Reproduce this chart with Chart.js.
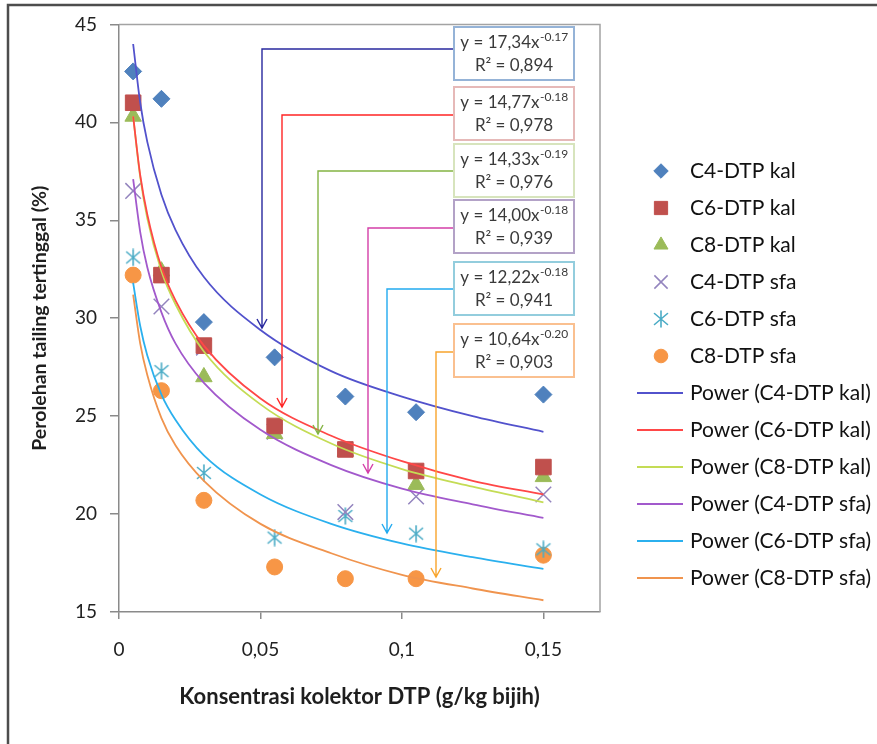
<!DOCTYPE html>
<html>
<head>
<meta charset="utf-8">
<script src="https://cdn.jsdelivr.net/npm/chart.js@4.4.1/dist/chart.umd.min.js"></script>
<style>
  html, body { margin: 0; padding: 0; background: #fff; }
  #wrap { width: 877px; height: 744px; }
</style>
</head>
<body>
<div id="wrap"><canvas id="chart" width="877" height="744"></canvas></div>
<script>
// nilai
const konsentrasi = [0.005, 0.015, 0.03, 0.055, 0.08, 0.105, 0.15];
const c4Kal = [42.6, 41.2, 29.8, 28.0, 26.0, 25.2, 26.1];
const c6Kal = [41.0, 32.2, 28.6, 24.5, 23.3, 22.2, 22.4];
const c8Kal = [40.3, 32.4, 27.0, 24.1, 23.2, 21.5, 21.9];
const c4Sfa = [36.5, 30.6, 28.5, 24.2, 20.1, 20.9, 21.0];
const c6Sfa = [33.1, 27.3, 22.1, 18.8, 19.9, 19.0, 18.2];
const c8Sfa = [32.2, 26.3, 20.7, 17.3, 16.7, 16.7, 17.9];

// garis tren power, dibaca sepanjang kurva
const trendX = [0.005, 0.0075, 0.01, 0.015, 0.02, 0.03, 0.05, 0.075, 0.1, 0.125, 0.15];
const trendC4Kal = [44.0, 41.0, 39.0, 36.3, 34.5, 32.1, 29.4, 27.3, 26.0, 25.0, 24.2];
const trendC6Kal = [40.3, 37.3, 35.3, 32.6, 30.9, 28.6, 25.9, 24.0, 22.7, 21.7, 21.0];
const trendC8Kal = [40.3, 37.2, 35.1, 32.4, 30.7, 28.3, 25.6, 23.6, 22.3, 21.4, 20.6];
const trendC4Sfa = [37.1, 34.4, 32.6, 30.3, 28.7, 26.7, 24.3, 22.5, 21.3, 20.5, 19.8];
const trendC6Sfa = [31.8, 29.6, 28.1, 26.1, 24.8, 23.0, 21.0, 19.5, 18.5, 17.8, 17.2];
const trendC8Sfa = [31.2, 28.7, 27.1, 24.9, 23.5, 21.7, 19.5, 18.0, 16.9, 16.2, 15.6];

const xTicks = [0, 0.05, 0.1, 0.15];
const yTicks = [15, 20, 25, 30, 35, 40, 45];

// persamaan di kotak label
const eqKoef = ['17,34', '14,77', '14,33', '14,00', '12,22', '10,64'];
const eqPangkat = ['-0.17', '-0.18', '-0.19', '-0.18', '-0.18', '-0.20'];
const eqR2 = ['0,894', '0,978', '0,976', '0,939', '0,941', '0,903'];

const FONT = 'Lato, "Open Sans", sans-serif';

// marker asterisk ala Excel
const asterisk = document.createElement('canvas');
asterisk.width = 18; asterisk.height = 18;
(function () {
  const c = asterisk.getContext('2d');
  c.strokeStyle = '#4BACC6'; c.lineWidth = 1.6; c.lineCap = 'round';
  c.beginPath();
  c.moveTo(9, 1); c.lineTo(9, 17);
  c.moveTo(2.5, 3.5); c.lineTo(15.5, 14.5);
  c.moveTo(15.5, 3.5); c.lineTo(2.5, 14.5);
  c.stroke();
})();

const pts = (xs, ys) => xs.map((x, i) => ({ x: x, y: ys[i] }));

function markers(label, ys, style, color, r, bw) {
  return { label: label, data: pts(konsentrasi, ys), pointStyle: style, pointRadius: r, pointHoverRadius: r,
    backgroundColor: color, borderColor: color, borderWidth: bw, showLine: false, order: 2 };
}
function trend(label, ys, color) {
  return { label: label, data: pts(trendX, ys), showLine: true, pointRadius: 0, borderColor: color,
    backgroundColor: color, borderWidth: 1.8, cubicInterpolationMode: 'monotone', fill: false, order: 1 };
}

const datasets = [
  markers('C4-DTP kal', c4Kal, 'rectRot', '#4F81BD', 8.5, 1),
  markers('C6-DTP kal', c6Kal, 'rect', '#C0504D', 11, 1),
  markers('C8-DTP kal', c8Kal, 'triangle', '#9BBB59', 9.5, 1),
  markers('C4-DTP sfa', c4Sfa, 'crossRot', '#9384BE', 11, 1.5),
  markers('C6-DTP sfa', c6Sfa, asterisk, '#4BACC6', 9, 1),
  markers('C8-DTP sfa', c8Sfa, 'circle', '#F79646', 8, 1),
  trend('Power (C4-DTP kal)', trendC4Kal, '#5252CC'),
  trend('Power (C6-DTP kal)', trendC6Kal, '#FF4747'),
  trend('Power (C8-DTP kal)', trendC8Kal, '#C4DC55'),
  trend('Power (C4-DTP sfa)', trendC4Sfa, '#A259CC'),
  trend('Power (C6-DTP sfa)', trendC6Sfa, '#2BB0EE'),
  trend('Power (C8-DTP sfa)', trendC8Sfa, '#F0944E')
];

// kotak persamaan + panah penunjuk (posisi piksel)
const boxTops = [27, 87, 144, 200, 262, 324];
const boxColors = ['#95B3D7', '#E6B9B8', '#D7E4BD', '#B3A2C7', '#93CDDD', '#FAC090'];
const arrowColors = ['#28289E', '#FF2525', '#84B443', '#D43FA8', '#22AAF0', '#F8A42C'];
const arrowY = [49, 115, 171, 228, 289, 352];
const arrowX = [262, 282, 318, 368, 387, 436];
const arrowTip = [328, 407, 434, 473, 533, 577];

const framePlugin = {
  id: 'frame',
  beforeDraw(chart) {
    const ctx = chart.ctx;
    ctx.save();
    ctx.fillStyle = '#fff';
    ctx.fillRect(0, 0, chart.width, chart.height);
    ctx.strokeStyle = '#4d4d4d';
    ctx.lineWidth = 2.5;
    ctx.beginPath();
    ctx.moveTo(8, chart.height); ctx.lineTo(8, 5); ctx.lineTo(chart.width, 5);
    ctx.stroke();
    ctx.restore();
  },
  beforeDatasetsDraw(chart) {
    const a = chart.chartArea, ctx = chart.ctx;
    ctx.save();
    ctx.strokeStyle = '#a3a3a3';
    ctx.lineWidth = 1.5;
    ctx.beginPath();
    ctx.moveTo(a.left, a.top); ctx.lineTo(a.right, a.top); ctx.lineTo(a.right, a.bottom);
    ctx.stroke();
    ctx.restore();
  }
};

const notesPlugin = {
  id: 'notes',
  afterDatasetsDraw(chart) {
    const ctx = chart.ctx;
    ctx.save();
    for (let i = 0; i < 6; i++) {
      // panah
      ctx.strokeStyle = arrowColors[i];
      ctx.lineWidth = 1.4;
      ctx.beginPath();
      ctx.moveTo(454, arrowY[i]); ctx.lineTo(arrowX[i], arrowY[i]); ctx.lineTo(arrowX[i], arrowTip[i]);
      ctx.moveTo(arrowX[i] - 5, arrowTip[i] - 9); ctx.lineTo(arrowX[i], arrowTip[i]); ctx.lineTo(arrowX[i] + 5, arrowTip[i] - 9);
      ctx.stroke();
    }
    for (let i = 0; i < 6; i++) {
      const top = boxTops[i], left = 454, w = 120, h = 53;
      ctx.fillStyle = '#fff';
      ctx.fillRect(left, top, w, h);
      ctx.strokeStyle = boxColors[i];
      ctx.lineWidth = 2;
      ctx.strokeRect(left, top, w, h);
      const cx = left + w / 2;
      ctx.fillStyle = '#3a3a3a';
      ctx.textBaseline = 'middle';
      ctx.font = '17px ' + FONT;
      const main = 'y = ' + eqKoef[i] + 'x';
      const mw = ctx.measureText(main).width;
      ctx.font = '12px ' + FONT;
      const sw = ctx.measureText(eqPangkat[i]).width;
      const x0 = cx - (mw + sw) / 2;
      ctx.font = '17px ' + FONT;
      ctx.textAlign = 'left';
      ctx.fillText(main, x0, top + 16);
      ctx.font = '12px ' + FONT;
      ctx.fillText(eqPangkat[i], x0 + mw + 0.5, top + 10);
      ctx.font = '17px ' + FONT;
      ctx.textAlign = 'center';
      ctx.fillText('R\u00B2 = ' + eqR2[i], cx, top + 39);
    }
    ctx.restore();
  }
};

const legendPlugin = {
  id: 'sideLegend',
  afterDraw(chart) {
    const ctx = chart.ctx;
    ctx.save();
    chart.data.datasets.forEach((ds, i) => {
      const y = 171 + i * 37;
      if (ds.showLine) {
        ctx.strokeStyle = ds.borderColor;
        ctx.lineWidth = 2;
        ctx.beginPath(); ctx.moveTo(637, y); ctx.lineTo(683, y); ctx.stroke();
      } else {
        ctx.fillStyle = ds.backgroundColor;
        ctx.strokeStyle = ds.borderColor;
        ctx.lineWidth = ds.borderWidth;
        Chart.helpers.drawPoint(ctx, { pointStyle: ds.pointStyle, radius: ds.pointRadius * 0.85,
          borderWidth: ds.borderWidth, rotation: 0 }, 661, y);
      }
      ctx.fillStyle = '#111';
      ctx.font = '21px ' + FONT;
      ctx.textAlign = 'left';
      ctx.textBaseline = 'middle';
      ctx.fillText(ds.label, 690, y);
    });
    ctx.restore();
  }
};

new Chart(document.getElementById('chart'), {
  type: 'scatter',
  data: { datasets: datasets },
  plugins: [framePlugin, notesPlugin, legendPlugin],
  options: {
    responsive: false,
    animation: false,
    events: [],
    layout: { padding: { left: 0, right: 277, top: 20, bottom: 0 } },
    plugins: { legend: { display: false }, tooltip: { enabled: false } },
    scales: {
      x: {
        type: 'linear', min: 0, max: 0.17,
        afterBuildTicks: (s) => { s.ticks = xTicks.map(v => ({ value: v })); },
        afterFit: (s) => { s.height = 132; },
        ticks: { padding: 19, color: '#222', font: { family: FONT, size: 19 },
          callback: (v) => String(+(+v).toFixed(2)).replace('.', ',') },
        grid: { drawOnChartArea: false, drawTicks: true, tickLength: 7, color: '#8a8a8a', lineWidth: 1.5 },
        border: { display: true, color: '#8a8a8a', width: 1.5 },
        title: { display: true, text: 'Konsentrasi kolektor DTP (g/kg bijih)', color: '#1e1e1e',
          font: { family: FONT, size: 22, weight: 'bold' }, padding: { top: 0, bottom: 34 } }
      },
      y: {
        type: 'linear', min: 15, max: 45,
        afterBuildTicks: (s) => { s.ticks = yTicks.map(v => ({ value: v })); },
        afterFit: (s) => { s.width = 119; },
        ticks: { padding: 13, color: '#222', font: { family: FONT, size: 19 } },
        grid: { drawOnChartArea: false, drawTicks: true, tickLength: 9, color: '#8a8a8a', lineWidth: 1.5 },
        border: { display: true, color: '#8a8a8a', width: 1.5 },
        title: { display: true, text: 'Perolehan tailing tertinggal (%)', color: '#1e1e1e',
          font: { family: FONT, size: 19.5, weight: 'bold' }, padding: { top: 28, bottom: 0 } }
      }
    }
  }
});
</script>
</body>
</html>
